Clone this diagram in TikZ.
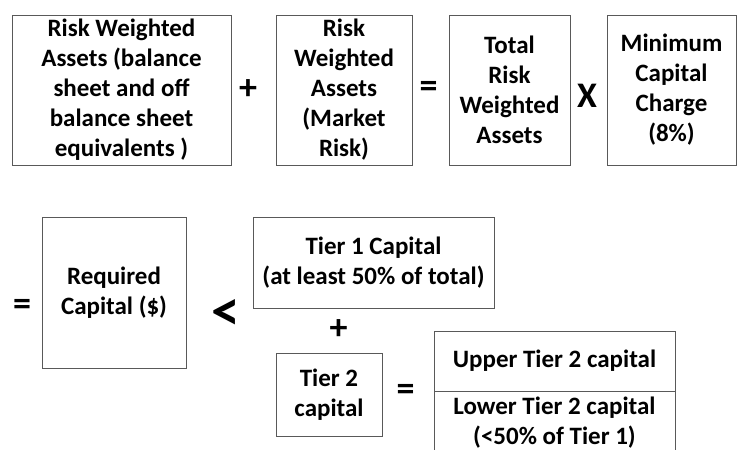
\documentclass[tikz,border=0pt]{standalone}
\usepackage{fontspec}
\setmainfont{Carlito}
\usetikzlibrary{positioning}

\begin{document}
\begin{tikzpicture}[x=1pt, y=-1pt, thick,
    box/.style={draw=black!65, line width=1pt, rectangle, outer sep=0pt, align=center, inner sep=2pt},
    op/.style={inner sep=0pt, font=\fontsize{36}{36}\selectfont\bfseries},
    font=\fontsize{25}{30}\selectfont\bfseries]

    \useasboundingbox (0,0) rectangle (737,450);
    \clip (0,0) rectangle (737,450);

    % Risk weighted assets (credit)
    \node[box, minimum width=219pt, minimum height=150pt] (rwacredit) at (121.5,90) {Risk Weighted\\Assets (balance\\sheet and off\\balance sheet\\equivalents )};

    % Risk weighted assets (market)
    \node[box, minimum width=136pt, minimum height=150pt, right=45pt of rwacredit] (rwamarket) {Risk\\Weighted\\Assets\\(Market\\Risk)};

    % Total risk weighted assets
    \node[box, minimum width=121pt, minimum height=150pt, right=37pt of rwamarket] (rwatotal) {Total\\Risk\\Weighted\\Assets};

    % Minimum capital charge
    \node[box, minimum width=129pt, minimum height=150pt, right=37pt of rwatotal] (charge) {Minimum\\Capital\\Charge\\(8\%)};

    % Operators first row
    \node[op] (plusA) at (248,89.5) {+};
    \node[op] (eqA) at (428.5,89.5) {=};
    \node[op] (times) at (587,96) {X};

    % Required capital
    \node[op] (eqB) at (22,307.5) {=};
    \node[box, minimum width=144pt, minimum height=151pt] (required) at (114,292.5) {Required\\Capital (\$)};
    \node[op, scale=1.6] (less) at (225.5,315) {<};

    % Tier 1 capital
    \node[box, minimum width=241pt, minimum height=91pt] (tierone) at (373.5,262.5) {Tier 1 Capital\\(at least 50\% of total)};
    \node[op] (plusB) at (338.5,330) {+};

    % Tier 2 capital
    \node[box, minimum width=106pt, minimum height=83pt] (tiertwo) at (329,394.5) {Tier 2\\capital};
    \node[op] (eqC) at (405.5,392) {=};

    % Upper and lower tier 2
    \node[box, minimum width=241pt, minimum height=60pt] (upper) at (554.5,361) {Upper Tier 2 capital};
    \node[box, minimum width=241pt, minimum height=63pt, below=0pt of upper] (lower) {Lower Tier 2 capital\\(<50\% of Tier 1)};

\end{tikzpicture}
\end{document}
